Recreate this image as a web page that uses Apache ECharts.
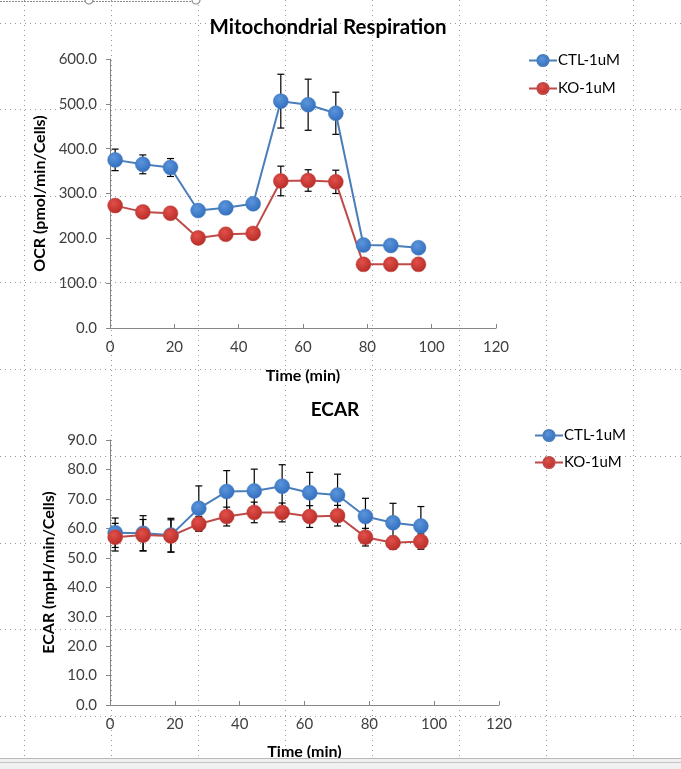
<!DOCTYPE html>
<html>
<head>
<meta charset="utf-8">
<script src="https://cdn.jsdelivr.net/npm/echarts@6/dist/echarts.min.js"></script>
<style>
html,body{margin:0;padding:0;background:#fff;}
#c{width:681px;height:769px;}
</style>
</head>
<body>
<div id="c"></div>
<script>
// ---- data ----
const timeMin = [1.6, 10.2, 18.8, 27.4, 36.0, 44.5, 53.1, 61.6, 70.2, 78.8, 87.3, 95.9];
const seriesNames = ['CTL-1uM', 'KO-1uM'];

const ocrCtl    = [375, 365, 358, 262, 268, 277, 506, 498, 479, 185, 184, 179];
const ocrCtlErr = [24, 21, 20, 8, 8, 8, 60, 57, 47, 6, 6, 6];
const ocrKo     = [273, 259, 256, 201, 209, 211, 328, 329, 326, 142, 142, 142];
const ocrKoErr  = [10, 8, 10, 8, 6, 6, 33, 24, 26, 6, 6, 6];

const ecarCtl    = [58.5, 58.3, 57.7, 66.8, 72.5, 72.7, 74.3, 72.1, 71.3, 64.0, 61.9, 60.8];
const ecarCtlErr = [5.0, 6.0, 5.7, 7.6, 7.1, 7.4, 7.3, 6.9, 7.1, 6.2, 6.6, 6.6];
const ecarKo     = [57.0, 57.7, 57.4, 61.5, 64.0, 65.4, 65.4, 64.0, 64.3, 57.0, 55.1, 55.5];
const ecarKoErr  = [4.7, 5.3, 5.5, 2.5, 3.2, 3.5, 3.2, 3.7, 3.5, 3.0, 2.2, 2.6];

const xTicks = [0, 20, 40, 60, 80, 100, 120];
const ocrTicks = [0, 100, 200, 300, 400, 500, 600];
const ecarTicks = [0, 10, 20, 30, 40, 50, 60, 70, 80, 90];

const titles = ['Mitochondrial Respiration', 'ECAR'];
const yNames = ['OCR (pmol/min/Cells)', 'ECAR (mpH/min/Cells)'];
const xName = 'Time (min)';

// ---- styling ----
const FONT = 'Lato';
const BLUE_LINE = '#4a7ebb', RED_LINE = '#be4b48';
function ball(c1, c2) {
  return new echarts.graphic.RadialGradient(0.4, 0.35, 0.7, [
    {offset: 0, color: c1}, {offset: 1, color: c2}
  ]);
}
const BLUE_FILL = ball('#5b95dc', '#2f6cbc');
const RED_FILL = ball('#e2504a', '#b52a25');

const chart = echarts.init(document.getElementById('c'), null, {renderer: 'canvas'});

function pairs(ys) { return timeMin.map((t, i) => [t, ys[i]]); }
function errData(ys, es) { return timeMin.map((t, i) => [t, ys[i] - es[i], ys[i] + es[i]]); }

function errSeries(name, ys, es, idx) {
  return {
    name: name, type: 'custom', xAxisIndex: idx, yAxisIndex: idx, z: 2,
    data: errData(ys, es),
    renderItem: function (params, api) {
      const lo = api.coord([api.value(0), api.value(1)]);
      const hi = api.coord([api.value(0), api.value(2)]);
      const w = 3.5;
      const st = {stroke: '#000', lineWidth: 1.2};
      return {type: 'group', children: [
        {type: 'line', shape: {x1: lo[0], y1: lo[1], x2: hi[0], y2: hi[1]}, style: st},
        {type: 'line', shape: {x1: lo[0] - w, y1: lo[1], x2: lo[0] + w, y2: lo[1]}, style: st},
        {type: 'line', shape: {x1: hi[0] - w, y1: hi[1], x2: hi[0] + w, y2: hi[1]}, style: st}
      ]};
    }
  };
}
function lineSeries(name, ys, idx, lc, fill) {
  return {
    name: name, type: 'line', xAxisIndex: idx, yAxisIndex: idx, z: 3,
    data: pairs(ys), symbol: 'circle', symbolSize: 15,
    lineStyle: {color: lc, width: 2},
    itemStyle: {color: fill, borderColor: lc, borderWidth: 0.5},
    emphasis: {disabled: true}
  };
}

// background sheet gridlines (decoration)
const bg = [];
const colX = [24, 111, 198, 285, 372, 459, 546, 633];
const rowY = [23, 109, 196, 282, 369, 456, 543, 629, 716];
const dot = {stroke: '#9a9a9a', lineWidth: 1, lineDash: [1, 4]};
colX.forEach(x => bg.push({type: 'line', z: -10, silent: true, shape: {x1: x + 0.5, y1: 0, x2: x + 0.5, y2: 769}, style: dot}));
rowY.forEach(y => bg.push({type: 'line', z: -10, silent: true, shape: {x1: 0, y1: y + 0.5, x2: 681, y2: y + 0.5}, style: dot}));
// chart selection frame fragment at top
bg.push({type: 'line', z: 10, silent: true, shape: {x1: 0, y1: 1.5, x2: 192, y2: 1.5}, style: {stroke: '#8a8a8a', lineWidth: 1, lineDash: [2, 1]}});
bg.push({type: 'circle', z: 11, silent: true, shape: {cx: 89, cy: 0, r: 4}, style: {fill: '#fff', stroke: '#8a8a8a', lineWidth: 1.2}});
bg.push({type: 'circle', z: 11, silent: true, shape: {cx: 196, cy: 0, r: 4}, style: {fill: '#fff', stroke: '#8a8a8a', lineWidth: 1.2}});
// bottom window bar
bg.push({type: 'rect', z: 100, silent: true, shape: {x: 0, y: 758, width: 681, height: 11}, style: {fill: '#f0f0f0'}});
bg.push({type: 'line', z: 101, silent: true, shape: {x1: 0, y1: 758.5, x2: 681, y2: 758.5}, style: {stroke: '#b8b8b8', lineWidth: 1}});
bg.push({type: 'line', z: 101, silent: true, shape: {x1: 0, y1: 762.5, x2: 681, y2: 762.5}, style: {stroke: '#c4c4c4', lineWidth: 1}});

const axisLineStyle = {color: '#868686', width: 1};
const tickLabel = {fontFamily: FONT, fontSize: 15, color: '#404040'};
const nameStyle = {fontFamily: FONT, fontSize: 16, fontWeight: 'bold', color: '#000'};

function xAxis(idx, gap) {
  return {
    type: 'value', gridIndex: idx, min: xTicks[0], max: xTicks[xTicks.length - 1], interval: xTicks[1] - xTicks[0],
    name: xName, nameLocation: 'middle', nameGap: gap, nameTextStyle: nameStyle,
    axisLine: {show: true, lineStyle: axisLineStyle},
    axisTick: {show: true, inside: true, length: 4, lineStyle: axisLineStyle},
    axisLabel: Object.assign({margin: 12}, tickLabel),
    splitLine: {show: false}
  };
}
function yAxis(idx, ticks, gap) {
  return {
    type: 'value', gridIndex: idx, min: ticks[0], max: ticks[ticks.length - 1], interval: ticks[1] - ticks[0],
    name: yNames[idx], nameLocation: 'middle', nameGap: gap, nameTextStyle: nameStyle,
    axisLine: {show: true, lineStyle: axisLineStyle},
    axisTick: {show: true, inside: false, length: 4, lineStyle: axisLineStyle},
    axisLabel: Object.assign({margin: 13, formatter: v => v.toFixed(1)}, tickLabel),
    splitLine: {show: false}
  };
}

const option = {
  backgroundColor: 'transparent',
  animation: false,
  title: [
    {text: titles[0], left: 323, top: 12, textAlign: 'center',
     textStyle: {fontFamily: FONT, fontSize: 20.5, fontWeight: 'bold', color: '#000'}},
    {text: titles[1], left: 330, top: 395, textAlign: 'center',
     textStyle: {fontFamily: FONT, fontSize: 19, fontWeight: 'bold', color: '#000'}}
  ],
  legend: [
    {data: seriesNames, orient: 'vertical', left: 523, top: 48, itemWidth: 28, itemHeight: 14, itemGap: 13,
     textStyle: {fontFamily: FONT, fontSize: 15, color: '#000', padding: [0, 0, 0, -4]}, selectedMode: false},
    {data: seriesNames, orient: 'vertical', left: 529, top: 423, itemWidth: 28, itemHeight: 14, itemGap: 12,
     textStyle: {fontFamily: FONT, fontSize: 15, color: '#000', padding: [0, 0, 0, -4]}, selectedMode: false}
  ],
  grid: [
    {left: 110, right: 681 - 496, top: 59, height: 269, containLabel: false},
    {left: 110, right: 681 - 499, top: 440, height: 265, containLabel: false}
  ],
  xAxis: [xAxis(0, 40), xAxis(1, 39)],
  yAxis: [yAxis(0, ocrTicks, 56), yAxis(1, ecarTicks, 47)],
  series: [
    lineSeries(seriesNames[0], ocrCtl, 0, BLUE_LINE, BLUE_FILL),
    lineSeries(seriesNames[1], ocrKo, 0, RED_LINE, RED_FILL),
    errSeries('ocrCtlErr', ocrCtl, ocrCtlErr, 0),
    errSeries('ocrKoErr', ocrKo, ocrKoErr, 0),
    lineSeries(seriesNames[0], ecarCtl, 1, BLUE_LINE, BLUE_FILL),
    lineSeries(seriesNames[1], ecarKo, 1, RED_LINE, RED_FILL),
    errSeries('ecarCtlErr', ecarCtl, ecarCtlErr, 1),
    errSeries('ecarKoErr', ecarKo, ecarKoErr, 1)
  ],
  graphic: bg
};
chart.setOption(option);
</script>
</body>
</html>
